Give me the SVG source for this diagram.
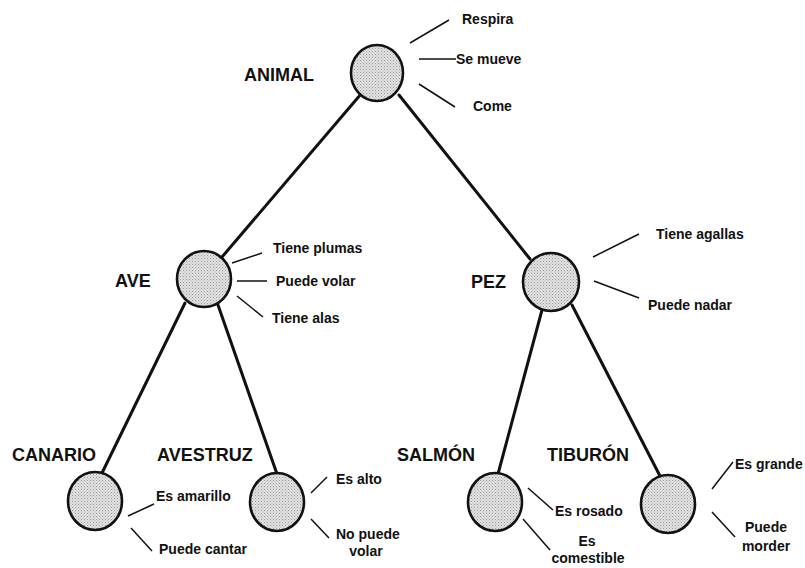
<svg xmlns="http://www.w3.org/2000/svg" width="805" height="568" viewBox="0 0 805 568">
  <style>
    .node { fill: url(#stipple); stroke: #111; stroke-width: 2.6; }
    .edge { stroke: #111; stroke-width: 3; stroke-linecap: round; fill: none; }
    .attr { stroke: #111; stroke-width: 1.5; fill: none; }
    .name { font-family: "Liberation Sans", Arial, sans-serif; font-weight: bold; font-size: 18px; fill: #111; }
    .prop { font-family: "Liberation Sans", Arial, sans-serif; font-weight: bold; font-size: 14px; fill: #111; }
    .mid { text-anchor: middle; }
  </style>
  <defs>
    <!-- fine dotted grey fill used for every node -->
    <pattern id="stipple" width="3" height="3" patternUnits="userSpaceOnUse">
      <rect width="3" height="3" fill="#e2e2e2"/>
      <rect x="0" y="0" width="1" height="1" fill="#9a9a9a"/>
      <rect x="1.5" y="1.5" width="1" height="1" fill="#b0b0b0"/>
    </pattern>
  </defs>
  <rect width="805" height="568" fill="#fff"/>

  <!-- tree edges -->
  <g id="connectors">
    <line class="edge" x1="361" y1="94" x2="222" y2="257"/>
    <line class="edge" x1="399" y1="95" x2="530" y2="259"/>
    <line class="edge" x1="185" y1="303" x2="102" y2="473"/>
    <line class="edge" x1="218" y1="305" x2="277" y2="474"/>
    <line class="edge" x1="542" y1="310" x2="498" y2="474"/>
    <line class="edge" x1="572" y1="305" x2="660" y2="476"/>
  </g>

  <g id="animal">
    <ellipse class="node" cx="377" cy="73" rx="26" ry="28"/>
    <text class="name" x="244" y="81">ANIMAL</text>
    <line class="attr" x1="410" y1="43" x2="449" y2="20"/>
    <text class="prop" x="462" y="24">Respira</text>
    <line class="attr" x1="419" y1="59" x2="456" y2="59"/>
    <text class="prop" x="456" y="64">Se mueve</text>
    <line class="attr" x1="419" y1="84" x2="455" y2="107"/>
    <text class="prop" x="473" y="111">Come</text>
  </g>

  <g id="ave">
    <ellipse class="node" cx="204" cy="279" rx="27" ry="28"/>
    <text class="name" x="115" y="287">AVE</text>
    <line class="attr" x1="232" y1="263" x2="262" y2="253"/>
    <text class="prop" x="273" y="253">Tiene plumas</text>
    <line class="attr" x1="237" y1="281" x2="267" y2="281"/>
    <text class="prop" x="276" y="286">Puede volar</text>
    <line class="attr" x1="237" y1="296" x2="263" y2="317"/>
    <text class="prop" x="272" y="323">Tiene alas</text>
  </g>

  <g id="pez">
    <ellipse class="node" cx="551" cy="282" rx="28" ry="29"/>
    <text class="name" x="471" y="288">PEZ</text>
    <line class="attr" x1="593" y1="257" x2="639" y2="234"/>
    <text class="prop" x="656" y="239">Tiene agallas</text>
    <line class="attr" x1="594" y1="281" x2="639" y2="298"/>
    <text class="prop" x="648" y="310">Puede nadar</text>
  </g>

  <g id="canario">
    <ellipse class="node" cx="95" cy="501" rx="27" ry="29"/>
    <text class="name" x="12" y="461">CANARIO</text>
    <line class="attr" x1="128" y1="516" x2="154" y2="504"/>
    <text class="prop" x="156" y="501">Es amarillo</text>
    <line class="attr" x1="131" y1="528" x2="152" y2="551"/>
    <text class="prop" x="159" y="554">Puede cantar</text>
  </g>

  <g id="avestruz">
    <ellipse class="node" cx="277" cy="502" rx="27" ry="29"/>
    <text class="name" x="157" y="461">AVESTRUZ</text>
    <line class="attr" x1="311" y1="493" x2="327" y2="477"/>
    <text class="prop" x="336" y="484">Es alto</text>
    <line class="attr" x1="311" y1="519" x2="329" y2="538"/>
    <text class="prop" x="336" y="539">No puede</text>
    <text class="prop mid" x="366" y="556">volar</text>
  </g>

  <g id="salmon">
    <ellipse class="node" cx="495" cy="502" rx="27" ry="29"/>
    <text class="name" x="397" y="461">SALMÓN</text>
    <line class="attr" x1="528" y1="488" x2="553" y2="510"/>
    <text class="prop" x="555" y="516">Es rosado</text>
    <line class="attr" x1="523" y1="519" x2="550" y2="550"/>
    <text class="prop mid" x="587" y="546">Es</text>
    <text class="prop mid" x="588" y="563">comestible</text>
  </g>

  <g id="tiburon">
    <ellipse class="node" cx="668" cy="504" rx="27" ry="29"/>
    <text class="name" x="547" y="461">TIBURÓN</text>
    <line class="attr" x1="712" y1="489" x2="733" y2="462"/>
    <text class="prop" x="735" y="469">Es grande</text>
    <line class="attr" x1="712" y1="512" x2="735" y2="537"/>
    <text class="prop mid" x="766" y="532">Puede</text>
    <text class="prop mid" x="766" y="551">morder</text>
  </g>
</svg>
